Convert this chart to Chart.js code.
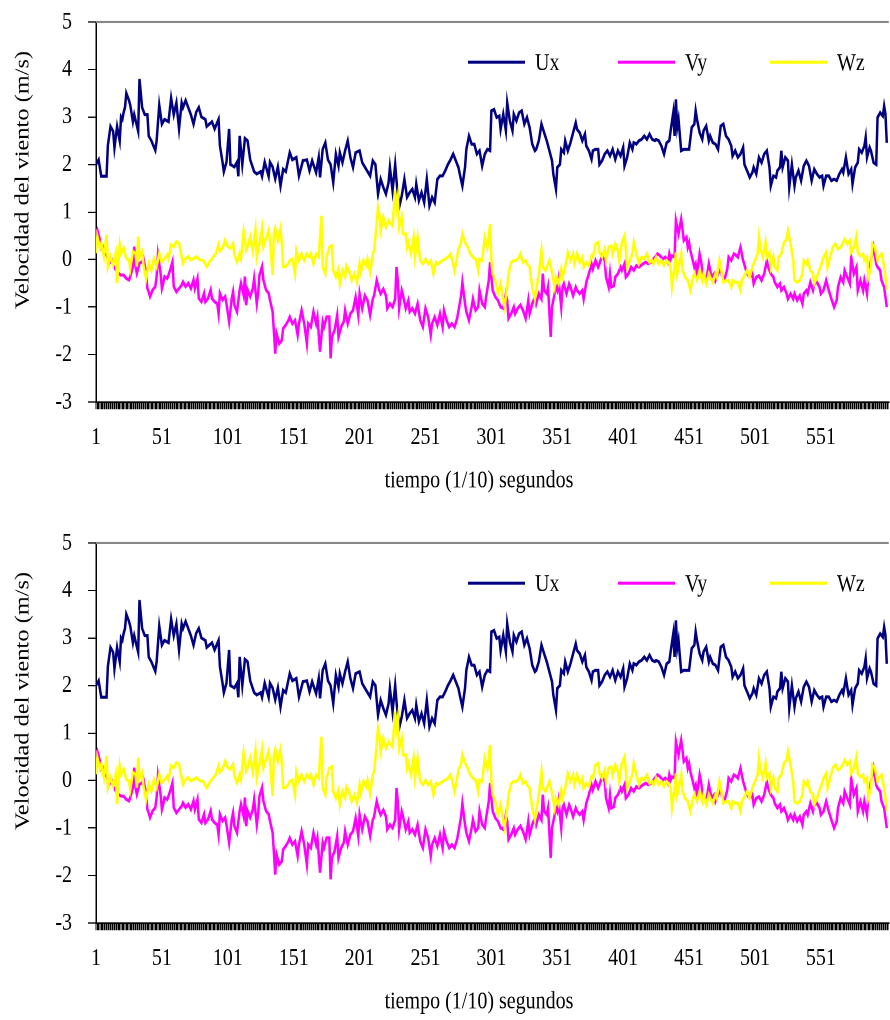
<!DOCTYPE html>
<html>
<head>
<meta charset="utf-8">
<script src="https://cdn.jsdelivr.net/npm/chart.js@4.4.1/dist/chart.umd.min.js"></script>
<style>
  html, body { margin: 0; padding: 0; background: #fff; }
  body { position: relative; width: 890px; height: 1020px; overflow: hidden; }
  /* el original está estirado en vertical, se imita con scaleY */
  .panel { position: absolute; left: 0; width: 890px; height: 418px; transform: scaleY(1.22); transform-origin: 0 0; }
  #p1 { top: 0; }
  #p2 { top: 521px; }
</style>
</head>
<body>
<div class="panel" id="p1"><canvas id="chart1"></canvas></div>
<div class="panel" id="p2"><canvas id="chart2"></canvas></div>
<script>
// Series (t = muestra, 1/10 s)
var series = ["Ux", "Vy", "Wz"];
var colors = ["#000080", "#FF00FF", "#FFFF00"];
var yTicks = [-3, -2, -1, 0, 1, 2, 3, 4, 5];
var xLabelStep = 50;

var uxT = [1,3,5,9,10,12,14,15,17,19,20,21,22,23,24,26,27,29,30,33,34,36,38,40,41,43,46,47,49,51,53,56,58,60,62,64,66,67,69,71,73,75,77,79,81,84,85,89,91,94,95,97,98,100,
  102,103,106,108,109,110,112,114,116,118,121,123,126,127,129,132,133,135,137,139,141,143,145,148,150,153,155,158,161,163,165,168,170,171,173,175,177,179,181,183,185,186,188,190,192,194,196,198,
  201,203,206,209,211,213,215,217,219,221,223,224,226,228,229,231,233,235,237,239,241,243,244,246,248,250,252,254,256,258,260,262,264,266,268,270,272,274,276,277,279,281,282,284,286,288,290,292,294,296,298,300,
  301,303,305,307,308,310,312,313,315,317,318,320,322,324,326,328,330,332,334,335,337,339,341,343,345,347,348,350,351,353,354,356,357,359,361,363,365,366,368,370,372,373,375,377,378,380,382,383,385,387,389,391,393,395,397,399,
  401,402,404,406,408,409,411,413,415,417,419,421,423,425,426,428,430,432,434,436,437,439,440,441,442,443,445,447,449,451,453,455,456,457,459,461,462,464,466,467,469,471,473,475,477,479,481,483,484,486,488,490,492,493,495,497,499,500,
  502,504,506,508,510,512,513,515,517,518,520,521,522,524,526,527,529,531,532,534,536,538,540,542,544,546,548,550,552,553,555,557,559,561,563,565,567,568,570,572,574,575,577,579,580,582,584,585,586,588,589,591,593,594,596,598,599,600,601];
var uxV = [2.0,2.1,1.75,1.75,2.4,2.8,2.7,2.35,2.8,2.5,3.0,2.95,3.1,3.2,3.5,3.35,3.25,2.9,3.05,2.7,3.8,3.2,3.05,3.05,2.6,2.5,2.3,2.5,3.25,2.85,2.95,2.9,3.4,3.05,3.3,2.75,3.3,3.2,3.35,3.2,3.05,2.85,3.1,3.2,3.0,2.95,2.8,2.9,2.75,2.95,2.4,2.05,1.85,2.05,
  2.75,2.0,1.95,2.05,1.75,2.6,2.0,2.55,2.5,2.1,1.85,1.8,1.85,1.75,2.05,1.75,2.05,1.95,1.7,1.95,1.55,1.9,1.85,2.25,2.1,2.15,1.76,2.08,2.1,1.87,2.08,1.83,2.15,1.73,2.32,2.46,2.1,2.0,1.62,2.22,1.97,2.25,2.04,2.29,2.5,2.15,1.94,2.25,
  2.29,2.04,1.9,1.76,2.08,2.0,1.38,1.69,1.52,1.38,1.62,1.94,1.45,2.0,1.66,1.1,1.34,1.69,1.31,1.41,1.48,1.31,1.59,1.24,1.41,1.2,1.69,1.13,1.31,1.2,1.69,1.76,1.76,1.87,2.0,2.1,2.22,2.08,1.94,1.8,1.55,1.94,2.32,2.6,2.43,2.43,2.22,2.29,1.97,2.22,2.32,2.29,
  3.13,3.16,2.99,3.02,2.74,3.06,2.71,3.3,2.92,2.71,3.06,2.92,3.09,3.13,2.85,2.99,2.78,2.43,2.29,2.32,2.5,2.85,2.67,2.5,2.29,2.08,1.8,1.48,1.94,2.0,2.32,2.25,2.5,2.29,2.46,2.67,2.88,2.74,2.67,2.5,2.64,2.39,2.29,2.11,2.29,2.32,2.32,2.0,2.08,2.22,2.29,2.18,2.32,2.11,2.29,2.18,
  2.36,1.97,2.15,2.46,2.32,2.46,2.43,2.5,2.53,2.6,2.53,2.64,2.53,2.5,2.53,2.5,2.39,2.22,2.46,2.5,2.71,3.09,2.6,3.37,2.78,2.95,2.29,2.32,2.32,2.32,2.78,2.85,3.13,2.95,2.67,2.53,2.71,2.81,2.5,2.6,2.46,2.43,2.32,2.81,2.85,2.6,2.53,2.39,2.18,2.29,2.15,2.22,2.36,2.0,1.87,1.73,1.83,1.94,
  1.8,2.15,2.04,2.22,2.29,1.94,1.55,1.76,1.73,1.87,1.94,2.29,1.94,2.15,2.08,1.52,2.0,1.55,1.73,1.87,1.66,1.97,2.08,1.97,1.66,1.9,1.8,1.73,1.76,1.55,1.76,1.76,1.66,1.69,1.66,1.8,1.9,1.83,2.15,1.8,1.9,1.59,1.94,2.04,2.32,2.25,2.39,2.57,2.15,2.36,2.29,2.04,2.0,2.99,3.09,3.02,3.23,3.06,2.46];

var vyT = [1,2,4,5,6,7,9,11,13,14,16,18,20,22,24,26,27,29,30,31,32,34,36,37,39,40,41,42,44,46,47,48,50,51,52,53,55,56,58,59,60,62,64,66,67,69,71,73,75,76,78,79,81,83,84,86,88,89,91,93,94,95,97,99,100,
  102,104,105,106,108,110,111,113,114,115,116,118,120,121,123,124,125,127,128,130,132,133,135,136,137,138,140,142,143,145,147,148,150,152,154,155,157,159,161,162,164,166,168,169,171,173,174,176,178,179,180,182,184,185,187,189,190,192,194,196,198,200,
  201,203,205,207,209,211,212,214,216,217,219,221,222,224,226,228,229,230,231,233,234,236,238,239,241,243,245,247,249,251,253,255,256,258,260,262,264,265,267,269,271,273,275,277,278,279,281,282,284,286,287,289,291,292,294,296,297,299,300,
  301,302,304,306,308,310,312,313,314,316,318,319,321,323,325,327,329,330,332,334,335,337,339,340,341,343,344,346,347,349,350,351,352,354,355,356,358,360,361,363,365,366,368,370,371,373,375,377,378,380,382,383,385,387,388,390,391,392,394,395,397,399,400,
  402,403,405,407,409,411,413,416,418,420,422,424,426,427,429,431,433,435,436,437,438,440,441,442,443,445,446,447,449,450,451,452,455,456,457,459,460,461,462,464,466,467,468,470,471,473,475,476,478,480,481,483,485,487,488,490,492,495,497,499,500,
  502,504,506,508,510,511,513,515,516,518,520,521,523,525,526,528,530,531,533,535,537,538,540,541,543,545,546,548,550,551,553,555,557,559,561,563,564,566,568,569,571,573,574,576,578,579,581,583,584,586,587,589,591,593,594,596,597,599,601];
var vyV = [0.55,0.62,0.41,0.24,0.27,0.13,0.1,-0.08,-0.01,-0.12,-0.22,-0.29,-0.33,-0.33,-0.4,-0.43,-0.36,-0.15,0.27,-0.15,-0.29,-0.08,-0.05,0.02,-0.29,-0.61,-0.68,-0.78,-0.64,-0.57,-0.36,0.1,-0.29,-0.61,-0.5,-0.36,-0.4,-0.33,-0.15,-0.05,-0.57,-0.68,-0.61,-0.54,-0.47,-0.57,-0.5,-0.61,-0.43,-0.61,-0.4,-0.82,-0.89,-0.71,-0.89,-0.82,-0.64,-0.82,-0.89,-0.93,-1.14,-0.71,-0.85,-0.78,-0.93,
  -1.31,-0.82,-0.68,-0.96,-1.1,-0.64,-0.5,-0.75,-0.36,-0.96,-0.64,-0.78,-0.61,-0.4,-0.93,-0.71,-0.33,-0.15,-0.43,-0.64,-0.71,-0.85,-1.1,-1.52,-1.98,-1.56,-1.77,-1.7,-1.45,-1.38,-1.28,-1.21,-1.35,-1.28,-1.59,-1.35,-1.07,-1.35,-1.77,-1.35,-1.42,-1.1,-1.35,-1.21,-1.94,-1.31,-1.42,-1.21,-1.21,-2.08,-1.63,-1.49,-1.17,-1.63,-1.42,-1.31,-1.07,-1.35,-1.14,-1.07,-0.79,-1.17,
  -0.72,-1.03,-0.76,-0.86,-1.17,-0.83,-0.76,-0.44,-0.65,-0.72,-0.62,-0.76,-1.03,-0.93,-1.0,-0.83,-0.16,-0.44,-1.03,-0.65,-0.76,-1.03,-0.86,-1.1,-1.03,-1.14,-0.93,-1.28,-1.42,-1.03,-1.21,-1.59,-1.35,-1.21,-1.38,-1.14,-1.42,-1.07,-1.28,-1.42,-1.35,-1.42,-1.24,-0.93,-0.76,-0.48,-0.93,-1.1,-1.28,-1.0,-0.83,-1.07,-1.0,-0.65,-0.93,-1.0,-0.79,-0.44,-0.06,
  -0.37,-0.65,-0.79,-0.86,-1.0,-1.03,-0.72,-0.86,-1.24,-1.14,-1.0,-1.14,-1.03,-0.96,-1.07,-1.24,-0.86,-1.14,-0.93,-0.79,-0.93,-0.72,-0.83,-0.3,-0.65,-0.72,-0.58,-1.63,-1.0,-0.72,-0.58,-0.65,-0.44,-1.0,-0.58,-0.51,-0.72,-0.51,-0.58,-0.76,-0.58,-0.65,-0.72,-0.65,-0.83,-0.48,-0.3,-0.09,-0.2,-0.02,-0.16,-0.09,0.08,-0.02,-0.37,-0.58,-0.3,-0.58,-0.55,-0.37,-0.3,-0.16,-0.23,
  -0.09,-0.37,-0.3,-0.16,-0.23,-0.13,-0.16,-0.09,-0.06,-0.09,-0.06,0.01,0.08,0.12,0.08,0.01,0.05,-0.06,0.12,0.01,0.08,0.05,0.82,0.68,0.54,0.85,0.64,0.4,0.47,0.26,0.36,0.19,-0.16,-0.09,-0.3,0.12,-0.02,-0.2,-0.37,-0.44,-0.09,-0.23,-0.37,-0.3,-0.44,-0.3,-0.2,-0.34,-0.41,-0.2,0.05,-0.02,0.12,0.08,0.05,0.26,-0.02,-0.3,-0.37,-0.3,-0.51,
  -0.37,-0.34,-0.44,-0.3,-0.02,-0.16,-0.3,-0.37,-0.48,-0.58,-0.51,-0.65,-0.58,-0.72,-0.83,-0.72,-0.83,-0.72,-0.86,-0.76,-0.93,-0.72,-0.65,-0.72,-0.48,-0.65,-0.51,-0.48,-0.58,-0.72,-0.65,-0.44,-0.65,-0.83,-1.0,-0.86,-0.58,-0.37,-0.48,-0.23,-0.37,-0.51,0.05,-0.3,-0.16,-0.65,-0.44,-0.65,-0.44,-0.72,-0.34,-0.02,0.26,-0.09,-0.16,-0.23,-0.44,-0.58,-1.0];

var wzT = [1,2,4,5,7,9,10,12,14,16,17,19,20,22,24,26,27,29,31,32,33,34,36,37,39,41,43,45,47,49,51,53,55,56,58,60,62,64,65,67,69,71,73,75,77,80,82,85,87,90,92,94,95,97,99,
  101,103,105,106,108,110,111,113,115,116,118,120,122,123,125,127,128,130,132,133,135,136,137,139,141,142,143,145,147,148,150,152,153,155,157,159,161,163,164,166,168,170,172,173,175,176,178,180,181,183,185,186,188,190,191,193,195,197,199,
  201,202,204,206,207,209,211,212,213,215,216,217,219,221,223,224,226,228,229,230,231,233,234,236,237,238,240,242,243,245,247,249,251,253,255,257,259,260,262,264,266,268,270,272,273,275,276,278,279,281,283,285,287,289,291,292,294,296,298,299,300,
  301,302,304,306,308,310,311,313,314,316,318,320,322,323,325,327,328,330,332,334,335,337,339,340,342,344,345,347,349,350,352,354,355,357,359,361,363,364,366,368,370,371,373,375,377,378,380,382,383,385,387,388,390,392,393,395,397,398,400,
  402,403,404,406,408,409,411,413,415,417,419,421,423,424,426,428,430,432,434,436,437,438,440,441,442,443,445,446,448,450,452,454,455,457,459,461,462,464,466,467,469,471,472,474,476,477,479,481,483,484,486,488,490,491,493,495,497,499,
  501,503,504,505,507,509,510,512,513,515,516,518,519,521,523,525,526,528,530,531,533,535,537,538,540,541,543,545,546,548,550,551,553,555,556,558,560,562,564,566,568,569,571,573,574,576,578,579,581,583,584,586,587,589,590,592,594,595,597,599,600,601];
var wzV = [0.13,0.48,0.24,0.34,0.06,0.52,-0.15,0.06,-0.12,0.13,-0.5,0.31,0.13,0.24,0.02,-0.01,-0.19,0.17,0.13,-0.15,0.48,0.06,0.17,-0.12,-0.4,-0.08,-0.22,0.02,-0.15,0.13,-0.05,0.02,0.1,0.02,0.31,0.27,0.38,0.34,0.2,-0.08,0.02,0.06,-0.01,0.02,0.06,-0.01,-0.01,-0.15,-0.05,0.06,0.13,0.31,0.17,0.24,0.41,
  0.27,0.24,0.34,0.1,-0.05,0.13,0.02,0.59,0.2,0.27,0.48,0.17,0.62,0.06,0.34,0.66,0.27,0.45,0.62,0.41,-0.33,0.55,0.66,0.41,0.66,0.34,-0.15,-0.15,-0.08,-0.02,0.01,-0.3,0.19,-0.02,0.12,-0.02,0.12,0.05,0.12,-0.09,0.12,0.05,0.92,-0.16,-0.3,0.05,0.26,0.29,-0.23,-0.37,-0.2,-0.51,-0.23,-0.37,-0.13,-0.23,-0.44,-0.3,-0.48,
  -0.09,-0.27,-0.02,-0.13,0.01,-0.27,0.12,0.19,0.47,1.1,0.96,0.61,0.89,0.68,0.82,0.78,0.71,1.45,1.1,1.31,0.68,0.89,0.54,0.54,0.26,0.36,0.12,0.47,0.05,0.47,-0.02,-0.09,0.01,-0.09,-0.02,-0.3,-0.06,-0.09,-0.06,-0.02,0.01,0.05,0.12,-0.09,-0.23,0.05,0.22,0.36,0.54,0.36,0.26,0.12,0.05,0.01,-0.23,0.01,-0.02,0.47,0.26,0.47,0.75,
  -0.02,-0.3,-0.44,-0.72,-0.51,-0.86,-1.0,-0.58,-0.3,-0.06,-0.02,-0.02,0.05,0.12,-0.06,-0.02,-0.09,-0.16,-0.58,-0.83,-0.65,-0.3,0.19,-0.16,-0.23,-0.09,-0.02,-0.27,-0.58,-0.37,-0.51,-0.2,-0.37,-0.16,0.15,-0.02,0.12,-0.09,0.12,-0.06,0.05,-0.16,-0.06,-0.13,0.08,0.05,0.33,0.36,0.15,0.05,0.22,-0.02,0.26,0.29,0.12,0.33,0.19,-0.02,0.36,
  0.5,0.19,-0.16,-0.02,0.12,0.36,0.12,-0.09,0.05,0.01,0.12,-0.06,-0.02,-0.09,0.05,-0.09,-0.02,-0.13,-0.02,-0.09,-0.16,-0.58,-0.16,0.15,-0.3,-0.16,0.12,-0.23,-0.37,-0.44,-0.65,-0.37,-0.3,-0.44,-0.23,-0.44,-0.3,-0.51,-0.3,-0.37,-0.48,-0.3,-0.37,-0.02,-0.3,-0.48,-0.44,-0.44,-0.58,-0.44,-0.48,-0.48,-0.65,-0.44,-0.34,-0.23,-0.37,-0.16,
  -0.02,0.12,0.47,0.26,0.05,0.36,0.05,0.15,-0.16,0.05,-0.16,-0.23,0.05,0.12,0.36,0.43,0.61,0.33,-0.02,-0.44,-0.48,-0.44,-0.3,-0.02,-0.09,-0.02,-0.23,-0.3,-0.51,-0.37,-0.2,-0.13,0.05,0.15,-0.16,0.05,0.26,0.33,0.22,0.26,0.36,0.43,0.33,0.4,0.15,0.26,0.5,0.15,0.08,0.12,-0.02,0.05,-0.37,-0.16,0.33,0.26,-0.02,0.05,0.12,-0.16,-0.37,-0.65];

var xTitle = "tiempo (1/10) segundos";
var yTitle = "Velocidad del viento (m/s)";
var fontFamily = '"Liberation Serif", "Times New Roman", serif';

// Todas las muestras 1..602 para las marcas del eje X
var xMarks = [];
for (var k = 1; k <= 602; k++) xMarks.push(k);

function pts(t, v) {
    return t.map(function (x, i) { return {x: x, y: v[i]}; });
}

// Sin márgenes extra por las etiquetas: el área de trazado queda fija
function noPad(s) {
    s.paddingLeft = 0;
    s.paddingRight = 0;
    s.paddingTop = 0;
    s.paddingBottom = 0;
}

// Marco superior gris, títulos de ejes y leyenda al estilo Excel
var decor = {
    id: 'decor',
    afterDraw: function (chart, args, o) {
        var ctx = chart.ctx;
        var area = chart.chartArea;
        ctx.save();
        ctx.strokeStyle = '#888';
        ctx.lineWidth = 2;
        ctx.beginPath();
        ctx.moveTo(area.left, area.top);
        ctx.lineTo(area.right, area.top);
        ctx.stroke();

        ctx.fillStyle = '#000';
        ctx.font = '20px ' + fontFamily;
        ctx.textAlign = 'center';
        ctx.textBaseline = 'middle';
        ctx.fillText(xTitle, o.xTitleX, o.xTitleY);
        ctx.save();
        ctx.translate(o.yTitleX, o.yTitleY);
        ctx.rotate(-Math.PI / 2);
        ctx.fillText(yTitle, 0, 0);
        ctx.restore();

        ctx.textAlign = 'left';
        chart.data.datasets.forEach(function (ds, i) {
            var x = o.legendX[i];
            ctx.strokeStyle = ds.borderColor;
            ctx.lineWidth = 2.4;
            ctx.beginPath();
            ctx.moveTo(x, o.legendY);
            ctx.lineTo(x + o.legendLen, o.legendY);
            ctx.stroke();
            ctx.fillText(ds.label, x + o.legendLen + 10, o.legendY + 1);
        });
        ctx.restore();
    }
};

function makeChart(id) {
    var ctx = document.getElementById(id).getContext("2d");
    return new Chart(ctx, {
        type: 'line',
        data: {
            datasets: [
                {label: series[0], data: pts(uxT, uxV), borderColor: colors[0], order: 2},
                {label: series[1], data: pts(vyT, vyV), borderColor: colors[1], order: 1},
                {label: series[2], data: pts(wzT, wzV), borderColor: colors[2], order: 0}
            ]
        },
        plugins: [decor],
        options: {
            responsive: true,
            maintainAspectRatio: false,
            devicePixelRatio: 2,
            animation: false,
            events: [],
            layout: { padding: {top: 18, left: 0, right: 0, bottom: 0} },
            elements: {
                line: { borderWidth: 2.5, tension: 0, fill: false },
                point: { radius: 0 }
            },
            scales: {
                x: {
                    type: 'linear',
                    position: 'bottom',
                    min: 1,
                    max: 602.5,
                    afterBuildTicks: function (s) { s.ticks = xMarks.map(function (v) { return {value: v}; }); },
                    afterFit: function (s) { s.height = 88.5; noPad(s); },
                    ticks: {
                        autoSkip: false,
                        maxRotation: 0,
                        minRotation: 0,
                        padding: 11,
                        color: '#000',
                        font: { size: 20, family: fontFamily },
                        callback: function (v) { return ((v - 1) % xLabelStep === 0 && v < 600) ? String(v) : ''; }
                    },
                    grid: { drawOnChartArea: false, color: '#000', lineWidth: 1, tickLength: 6 },
                    border: { color: '#000', width: 1.5 }
                },
                y: {
                    min: yTicks[0],
                    max: yTicks[yTicks.length - 1],
                    afterBuildTicks: function (s) { s.ticks = yTicks.map(function (v) { return {value: v}; }); },
                    afterFit: function (s) { s.width = 96; noPad(s); },
                    ticks: {
                        padding: 16,
                        color: '#000',
                        font: { size: 20, family: fontFamily }
                    },
                    grid: { drawOnChartArea: false, color: '#000', lineWidth: 1, tickLength: 8 },
                    border: { color: '#000', width: 1.5 }
                }
            },
            plugins: {
                legend: { display: false },
                tooltip: { enabled: false },
                decor: {
                    xTitleX: 479, xTitleY: 394,
                    yTitleX: 23, yTitleY: 147.5,
                    legendX: [468, 618, 770], legendY: 51, legendLen: 57
                }
            }
        }
    });
}

makeChart("chart1");
makeChart("chart2");
</script>
</body>
</html>
